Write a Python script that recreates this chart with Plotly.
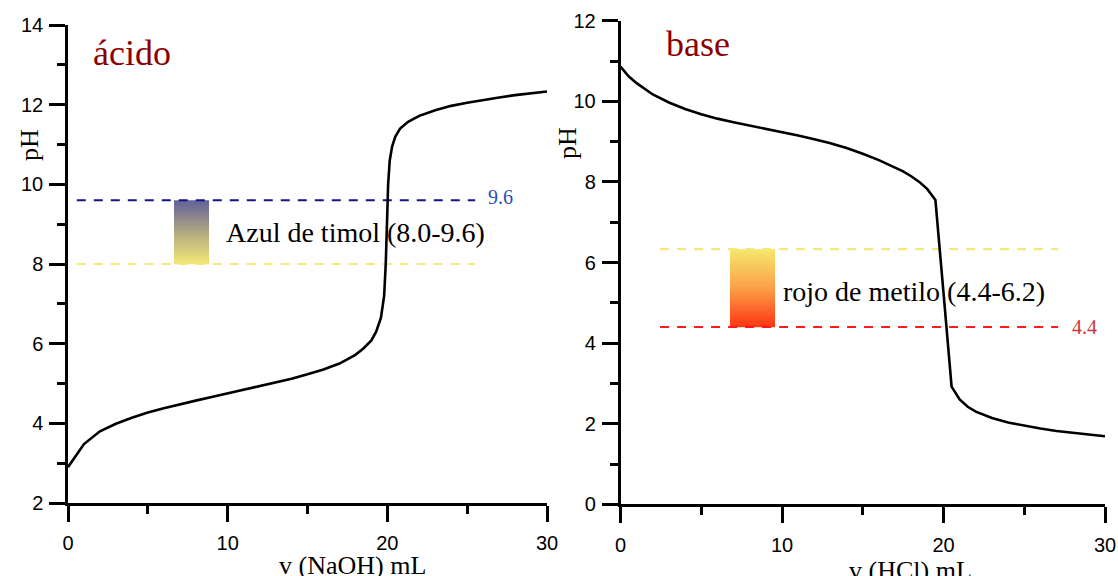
import numpy as np
import plotly.graph_objects as go

# ---------------- data ----------------
# Left: weak acid titrated with NaOH
v_naoh = [0, 1, 2, 3, 4, 5, 6, 7, 8, 9, 10, 11, 12, 13, 14, 15, 16, 17, 17.5, 18, 18.5,
          19, 19.3, 19.6, 19.8, 19.9, 20.0, 20.05, 20.15, 20.3, 20.5, 20.8, 21.3,
          22, 23, 24, 25, 26, 27, 28, 29, 30]
ph_acid = [2.9, 3.48, 3.8, 3.99, 4.14, 4.27, 4.38, 4.48, 4.57, 4.66, 4.75, 4.84, 4.93,
           5.02, 5.12, 5.23, 5.35, 5.5, 5.6, 5.72, 5.88, 6.08, 6.3, 6.65, 7.2, 8.0, 9.3,
           10.0, 10.6, 10.95, 11.2, 11.4, 11.57, 11.72, 11.86, 11.97, 12.05, 12.12,
           12.18, 12.24, 12.29, 12.33]

# Right: weak base titrated with HCl
v_hcl = [0, 0.5, 1, 1.5, 2, 3, 4, 5, 6, 7, 8, 9, 10, 11, 12, 13, 14, 15, 16, 17,
         17.5, 18, 18.5, 19, 19.5, 20, 20.5, 21, 21.5, 22, 23, 24, 25, 26, 27, 28, 29, 30]
ph_base = [10.86, 10.62, 10.45, 10.3, 10.17, 9.97, 9.81, 9.68, 9.57, 9.48, 9.4, 9.32,
           9.24, 9.15, 9.06, 8.96, 8.84, 8.7, 8.54, 8.36, 8.26, 8.14, 8.0, 7.82, 7.55,
           5.25, 2.92, 2.6, 2.42, 2.3, 2.14, 2.03, 1.95, 1.88, 1.82, 1.77, 1.73, 1.69]

# Indicator ranges
thymol_low, thymol_high = 8.0, 9.6
methyl_low, methyl_high = 4.4, 6.33

acid_label = "ácido"
base_label = "base"
thymol_text = "Azul de timol (8.0-9.6)"
methyl_text = "rojo de metilo (4.4-6.2)"

# ---------------- figure ----------------
W, H = 1118, 576
SERIF = "Liberation Serif, Times New Roman, serif"
SANS = "Liberation Sans, Arial, sans-serif"

fig = go.Figure()


def gradient(x0, x1, lo, hi, colorscale, xa, ya, n=64):
    edges = np.linspace(lo, hi, n + 1)
    mids = (edges[:-1] + edges[1:]) / 2
    return go.Heatmap(x=[x0, x1], y=edges, z=[[m] for m in mids],
                      colorscale=colorscale, zmin=lo, zmax=hi, showscale=False,
                      xaxis=xa, yaxis=ya, hoverinfo="skip")


fig.add_trace(gradient(6.64, 8.83, thymol_low, thymol_high,
                       [[0, "#f5e878"], [0.45, "#b8ae80"], [1, "#60609a"]], "x", "y"))
fig.add_trace(gradient(6.78, 9.57, methyl_low, methyl_high,
                       [[0, "#ff3412"], [0.5, "#fba048"], [1, "#f5e86e"]], "x2", "y2"))

DASH = "9px,8px"
# Left dashed lines
fig.add_trace(go.Scatter(x=[0.55, 25.5], y=[thymol_high] * 2, mode="lines",
                         line=dict(color="#14148a", width=2.2, dash=DASH),
                         xaxis="x", yaxis="y", hoverinfo="skip"))
fig.add_trace(go.Scatter(x=[0.55, 25.5], y=[thymol_low] * 2, mode="lines",
                         line=dict(color="#f6e87c", width=2.2, dash=DASH),
                         xaxis="x", yaxis="y", hoverinfo="skip"))
# Right dashed lines
fig.add_trace(go.Scatter(x=[2.45, 27.1], y=[methyl_high] * 2, mode="lines",
                         line=dict(color="#f6e87c", width=2.2, dash=DASH),
                         xaxis="x2", yaxis="y2", hoverinfo="skip"))
fig.add_trace(go.Scatter(x=[2.45, 27.1], y=[methyl_low] * 2, mode="lines",
                         line=dict(color="#ff1a1a", width=2.2, dash=DASH),
                         xaxis="x2", yaxis="y2", hoverinfo="skip"))

# Curves
fig.add_trace(go.Scatter(x=v_naoh, y=ph_acid, mode="lines",
                         line=dict(color="black", width=2.6), xaxis="x", yaxis="y"))
fig.add_trace(go.Scatter(x=v_hcl, y=ph_base, mode="lines",
                         line=dict(color="black", width=2.6), xaxis="x2", yaxis="y2"))

axis_common = dict(showgrid=False, zeroline=False, showline=True, linecolor="black",
                   linewidth=2.5, ticks="outside", ticklen=16, tickwidth=2.5,
                   tickcolor="black", tickfont=dict(family=SANS, size=20, color="black"),
                   fixedrange=True, automargin=False)
minor_common = dict(ticks="outside", ticklen=8, tickwidth=2.5, tickcolor="black")

fig.update_layout(
    width=W, height=H, autosize=False,
    margin=dict(l=0, r=0, t=0, b=0, autoexpand=False),
    paper_bgcolor="white", plot_bgcolor="white",
    showlegend=False,
    xaxis=dict(domain=[68 / W, 547 / W], range=[0, 30], tickvals=[0, 10, 20, 30],
               minor=dict(tickvals=[5, 15, 25], **minor_common),
               anchor="y", ticklabelstandoff=4, **axis_common),
    yaxis=dict(domain=[1 - 503 / H, 1 - 25 / H], range=[2, 14],
               tickvals=[2, 4, 6, 8, 10, 12, 14],
               minor=dict(tickvals=[3, 5, 7, 9, 11, 13], **minor_common),
               anchor="x", ticklabelstandoff=2, **axis_common),
    xaxis2=dict(domain=[620.5 / W, 1105 / W], range=[0, 30], tickvals=[0, 10, 20, 30],
                minor=dict(tickvals=[5, 15, 25], **minor_common),
                anchor="y2", ticklabelstandoff=5, **axis_common),
    yaxis2=dict(domain=[1 - 504.3 / H, 1 - 20.7 / H], range=[0, 12],
                tickvals=[0, 2, 4, 6, 8, 10, 12],
                minor=dict(tickvals=[1, 3, 5, 7, 9, 11], **minor_common),
                anchor="x2", ticklabelstandoff=2, **axis_common),
)

ann = []
# Panel titles
ann.append(dict(text=acid_label, xref="paper", yref="paper", x=91 / W, y=1 - 53.5 / H,
                xanchor="left", yanchor="middle", showarrow=False,
                font=dict(family=SERIF, size=36, color="#8b0000")))
ann.append(dict(text=base_label, xref="paper", yref="paper", x=664 / W, y=1 - 43.6 / H,
                xanchor="left", yanchor="middle", showarrow=False,
                font=dict(family=SERIF, size=36, color="#8b0000")))
# Indicator texts
ann.append(dict(text=thymol_text, xref="x", yref="y", x=9.95, xshift=-3,
                y=(thymol_low + thymol_high) / 2,
                xanchor="left", yanchor="middle", showarrow=False,
                font=dict(family=SERIF, size=28, color="black")))
ann.append(dict(text=methyl_text, xref="x2", yref="y2", x=10.05, xshift=-2, y=5.29,
                xanchor="left", yanchor="middle", showarrow=False,
                font=dict(family=SERIF, size=28, color="black")))
# Line value labels
ann.append(dict(text=f"{thymol_high:.1f}", xref="x", yref="y", x=26.2, y=thymol_high,
                xanchor="left", yanchor="middle", yshift=3, showarrow=False,
                font=dict(family=SERIF, size=20, color="#2a50b0")))
ann.append(dict(text=f"{methyl_low:.1f}", xref="x2", yref="y2", x=27.85, y=methyl_low,
                xanchor="left", yanchor="middle", showarrow=False,
                font=dict(family=SERIF, size=20, color="#d03535")))
# Axis titles
ann.append(dict(text="pH", xref="paper", yref="paper", x=29 / W, y=1 - 145 / H,
                xanchor="center", yanchor="middle", textangle=-90, showarrow=False,
                font=dict(family=SERIF, size=26, color="black")))
ann.append(dict(text="pH", xref="paper", yref="paper", x=568 / W, y=1 - 143 / H,
                xanchor="center", yanchor="middle", textangle=-90, showarrow=False,
                font=dict(family=SERIF, size=26, color="black")))
ann.append(dict(text="v (NaOH) mL", xref="paper", yref="paper", x=352 / W, y=1 - 565 / H,
                xanchor="center", yanchor="middle", showarrow=False,
                font=dict(family=SERIF, size=26, color="black")))
ann.append(dict(text="v (HCl) mL", xref="paper", yref="paper", x=910 / W, y=1 - 570 / H,
                xanchor="center", yanchor="middle", showarrow=False,
                font=dict(family=SERIF, size=26, color="black")))
fig.update_layout(annotations=ann)

fig.write_html("out.html")
